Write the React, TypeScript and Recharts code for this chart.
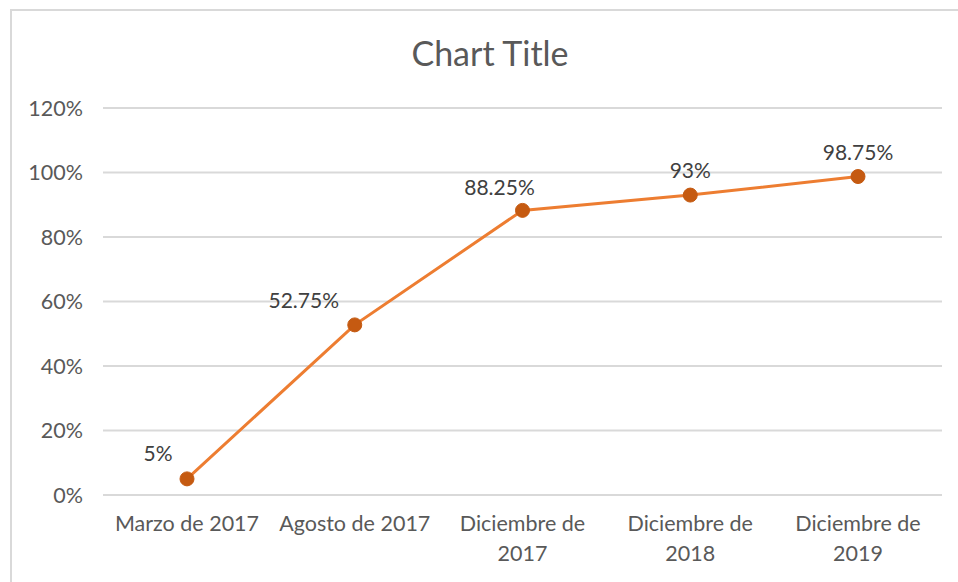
import React from 'react';
import { LineChart, Line, XAxis, YAxis, CartesianGrid, LabelList } from 'recharts';

const categories = ['Marzo de 2017', 'Agosto de 2017', 'Diciembre de 2017', 'Diciembre de 2018', 'Diciembre de 2019'];
const progress = [5, 52.75, 88.25, 93, 98.75];
const yTicks = [0, 20, 40, 60, 80, 100, 120];

// label offsets relative to each point (Excel placed them by hand)
const labelOffsets = [
    [-29, -26],
    [-51, -25],
    [-23, -24],
    [0, -26],
    [0, -25],
];

const data = categories.map((name, i) => ({ name, value: progress[i] }));

const FONT = 'Lato, "Open Sans", sans-serif';

const CategoryTick = (props: any) => {
    const { x, y, payload } = props;
    const label: string = payload.value;
    let lines = [label];
    if (label.length > 15) {
        const cut = label.lastIndexOf(' ');
        lines = [label.slice(0, cut), label.slice(cut + 1)];
    }
    return (
        <text x={x} y={y} textAnchor="middle" fill="#595959" fontSize={21.5} fontFamily={FONT}>
            {lines.map((l, i) => (
                <tspan key={i} x={x} dy={i === 0 ? 28 : 30}>{l}</tspan>
            ))}
        </text>
    );
};

const PointLabel = (props: any) => {
    const { x, y, value, index } = props;
    const [dx, dy] = labelOffsets[index] || [0, -25];
    return (
        <text x={x + dx} y={y + dy} textAnchor="middle" dominantBaseline="central" fill="#404040" fontSize={21} fontFamily={FONT}>
            {`${value}%`}
        </text>
    );
};

export default function App() {
    return (
        <div style={{ position: 'absolute', left: 0, top: 0, width: 958, height: 582, overflow: 'hidden', background: '#fff' }}>
            <div style={{ position: 'absolute', left: 10, top: 9, width: 980, height: 620, border: '2px solid #D9D9D9', boxSizing: 'border-box' }} />
            <div style={{ position: 'absolute', left: 10, width: 960, top: 32, textAlign: 'center', fontFamily: FONT, fontSize: 34, color: '#595959' }}>
                Chart Title
            </div>
            <LineChart width={958} height={582} data={data} margin={{ top: 108, right: 16, bottom: 27, left: 10 }} style={{ position: 'absolute', left: 0, top: 0 }}>
                <CartesianGrid vertical={false} stroke="#D9D9D9" strokeWidth={2} />
                <XAxis
                    dataKey="name"
                    axisLine={{ stroke: '#D9D9D9', strokeWidth: 2 }}
                    tickLine={false}
                    tick={<CategoryTick />}
                    height={60}
                    interval={0}
                    padding={{ left: 84, right: 84 }}
                />
                <YAxis
                    domain={[0, 120]}
                    ticks={yTicks}
                    tickFormatter={(v) => `${v}%`}
                    axisLine={false}
                    tickLine={false}
                    tickSize={0}
                    tickMargin={20}
                    width={93}
                    tick={{ fill: '#595959', fontSize: 21.5, fontFamily: FONT }}
                />
                <Line
                    type="linear"
                    dataKey="value"
                    stroke="#ED7D31"
                    strokeWidth={3}
                    dot={{ r: 7, fill: '#C55A11', stroke: '#C55A11', strokeWidth: 1 }}
                    isAnimationActive={false}
                >
                    <LabelList dataKey="value" content={<PointLabel />} />
                </Line>
            </LineChart>
        </div>
    );
}
